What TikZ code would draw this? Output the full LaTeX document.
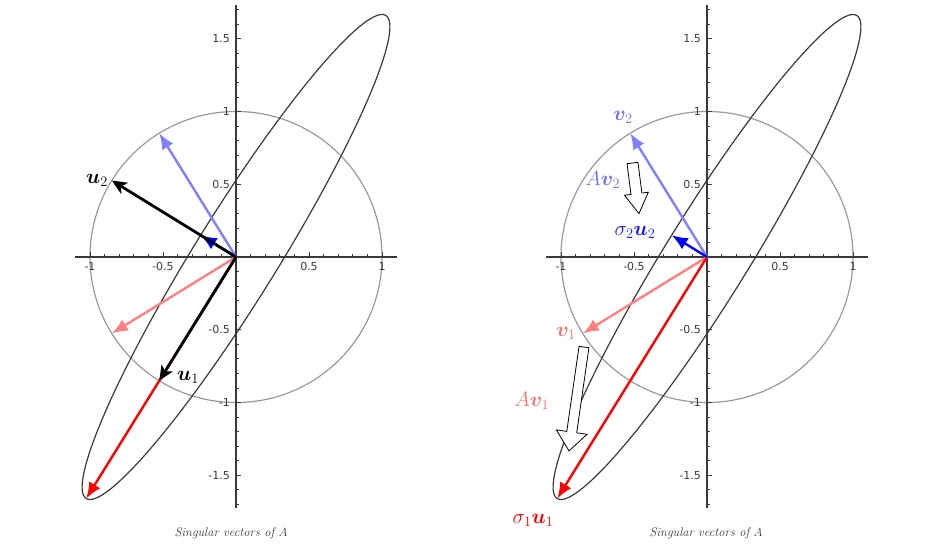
\documentclass[tikz,border=0pt]{standalone}
\usepackage{amsmath,bm}
\usepackage{fontspec}
\newfontfamily\tickfont{DejaVu Sans}
\usetikzlibrary{arrows.meta,calc}
\definecolor{axcol}{HTML}{3A3A3A}
\definecolor{circcol}{HTML}{9A9A9A}
\definecolor{lred}{HTML}{FF8080}
\definecolor{lblue}{HTML}{8080FF}
\definecolor{lredtxt}{HTML}{FF7070}
\definecolor{lbluetxt}{HTML}{6F6FFF}
\definecolor{dblue}{HTML}{1818FF}
\tikzset{
  axisline/.style={draw=axcol, line width=1.2pt},
  tickmark/.style={draw=axcol, line width=0.8pt},
  ticklabel/.style={font=\tickfont\fontsize{11}{12}\selectfont, text=axcol, inner sep=0pt},
  unitcircle/.style={draw=circcol, line width=1.2pt},
  imgellipse/.style={draw=axcol, line width=1.2pt},
  vecarrow/.style={line width=2.4pt, -{Latex[length=16pt,width=13pt]}},
  blackarrow/.style={line width=2.8pt, -{Stealth[length=15pt,width=13pt,inset=4pt]}},
  mathlabel/.style={font=\fontsize{22.5}{26}\selectfont, inner sep=0pt},
  captionlabel/.style={font=\fontsize{12.5}{14}\selectfont\itshape, text=axcol, inner sep=0pt},
  blockarrow/.style={draw=black, fill=white, line width=0.8pt, line join=miter},
}
\newcommand\plotframe{%
  \draw[unitcircle] (0,0) ellipse [x radius=146pt, y radius=145.5pt];
  \draw[imgellipse] plot[domain=0:360, samples=181, smooth] ({cos(\x)+sin(\x)/3},{4/3*cos(\x)+sin(\x)});
  \draw[axisline] (-1.103,0) -- (1.103,0);
  \draw[axisline] (0,-1.725) -- (0,1.732);
  \foreach \t in {-10,...,10}{
    \pgfmathtruncatemacro\mm{abs(mod(\t,5))}
    \ifnum\mm=0 \draw[tickmark] (\t/10,0) -- ++(0,5pt);
    \else \draw[tickmark] (\t/10,0) -- ++(0,3pt); \fi
  }
  \foreach \t in {-17,...,17}{
    \pgfmathtruncatemacro\mm{abs(mod(\t,5))}
    \ifnum\mm=0 \draw[tickmark] (0,\t/10) -- ++(5pt,0);
    \else \draw[tickmark] (0,\t/10) -- ++(3pt,0); \fi
  }
  \foreach \t/\s in {-1/-1,-0.5/-0.5,0.5/0.5,1/1}{
    \node[ticklabel, anchor=north] at ([yshift=-5pt]\t,0) {\s};
  }
  \foreach \t/\s in {-1.5/-1.5,-1/-1,-0.5/-0.5,0.5/0.5,1/1,1.5/1.5}{
    \node[ticklabel, anchor=east] at ([xshift=-6pt]0,\t) {\s};
  }
}
\begin{document}
\begin{tikzpicture}[x=1pt,y=1pt]
\useasboundingbox (0,0) rectangle (943,550);
% ---------------- left plot ----------------
\begin{scope}[shift={(236pt,293pt)}, x=146pt, y=145.5pt]
  \plotframe
  \coordinate (LO) at (0,0);
  \coordinate (Lv1) at (-0.8507,-0.5257);
  \coordinate (Lv2) at (-0.5257,0.8507);
  \coordinate (Lu1) at (-0.5257,-0.8507);
  \coordinate (Lu2) at (-0.8507,0.5257);
  \coordinate (Ls1u1) at (-1.0259,-1.6600);
  \coordinate (Ls2u2) at (-0.2421,0.1498);
  \draw[vecarrow, lblue] (LO) -- (Lv2);
  \draw[vecarrow, lred] (LO) -- (Lv1);
  \draw[vecarrow, red] (LO) -- (Ls1u1);
  \draw[vecarrow, blue] (LO) -- (Ls2u2);
  \draw[blackarrow, black] (LO) -- (Lu1);
  \draw[blackarrow, black] (LO) -- (Lu2);
\end{scope}
\node[mathlabel] (labu2) at (97,370) {$\bm{u}_2$};
\node[mathlabel] (labu1) at (188,173) {$\bm{u}_1$};
\node[captionlabel] (capL) at (231,17) {Singular vectors of $A$};
% ---------------- right plot ----------------
\begin{scope}[shift={(707pt,293pt)}, x=146pt, y=145.5pt]
  \plotframe
  \coordinate (RO) at (0,0);
  \coordinate (Rv1) at (-0.8507,-0.5257);
  \coordinate (Rv2) at (-0.5257,0.8507);
  \coordinate (Rs1u1) at (-1.0259,-1.6600);
  \coordinate (Rs2u2) at (-0.2421,0.1498);
  \draw[vecarrow, lblue] (RO) -- (Rv2);
  \draw[vecarrow, lred] (RO) -- (Rv1);
  \draw[vecarrow, red] (RO) -- (Rs1u1);
  \draw[vecarrow, blue] (RO) -- (Rs2u2);
\end{scope}
\draw[blockarrow, shift={(632.5,387)}, rotate=-82.7]
  (0,-5.5) -- (31,-5.5) -- (31,-12) -- (51,0) -- (31,12) -- (31,5.5) -- (0,5.5) -- cycle;
\draw[blockarrow, shift={(584,203)}, rotate=-98.2]
  (0,-5) -- (86,-5) -- (86,-15.5) -- (105,0) -- (86,15.5) -- (86,5) -- (0,5) -- cycle;
\node[mathlabel, text=lbluetxt] (labv2) at (623,433) {$\bm{v}_2$};
\node[mathlabel, text=lbluetxt] (labAv2) at (603,370) {$A\bm{v}_2$};
\node[mathlabel, text=dblue] (labs2u2) at (635,318) {$\sigma_2\bm{u}_2$};
\node[mathlabel, text=lredtxt] (labv1) at (566,217) {$\bm{v}_1$};
\node[mathlabel, text=lredtxt] (labAv1) at (532,149) {$A\bm{v}_1$};
\node[mathlabel, text=red] (labs1u1) at (533,30) {$\sigma_1\bm{u}_1$};
\node[captionlabel] (capR) at (706,17) {Singular vectors of $A$};
\end{tikzpicture}
\end{document}
